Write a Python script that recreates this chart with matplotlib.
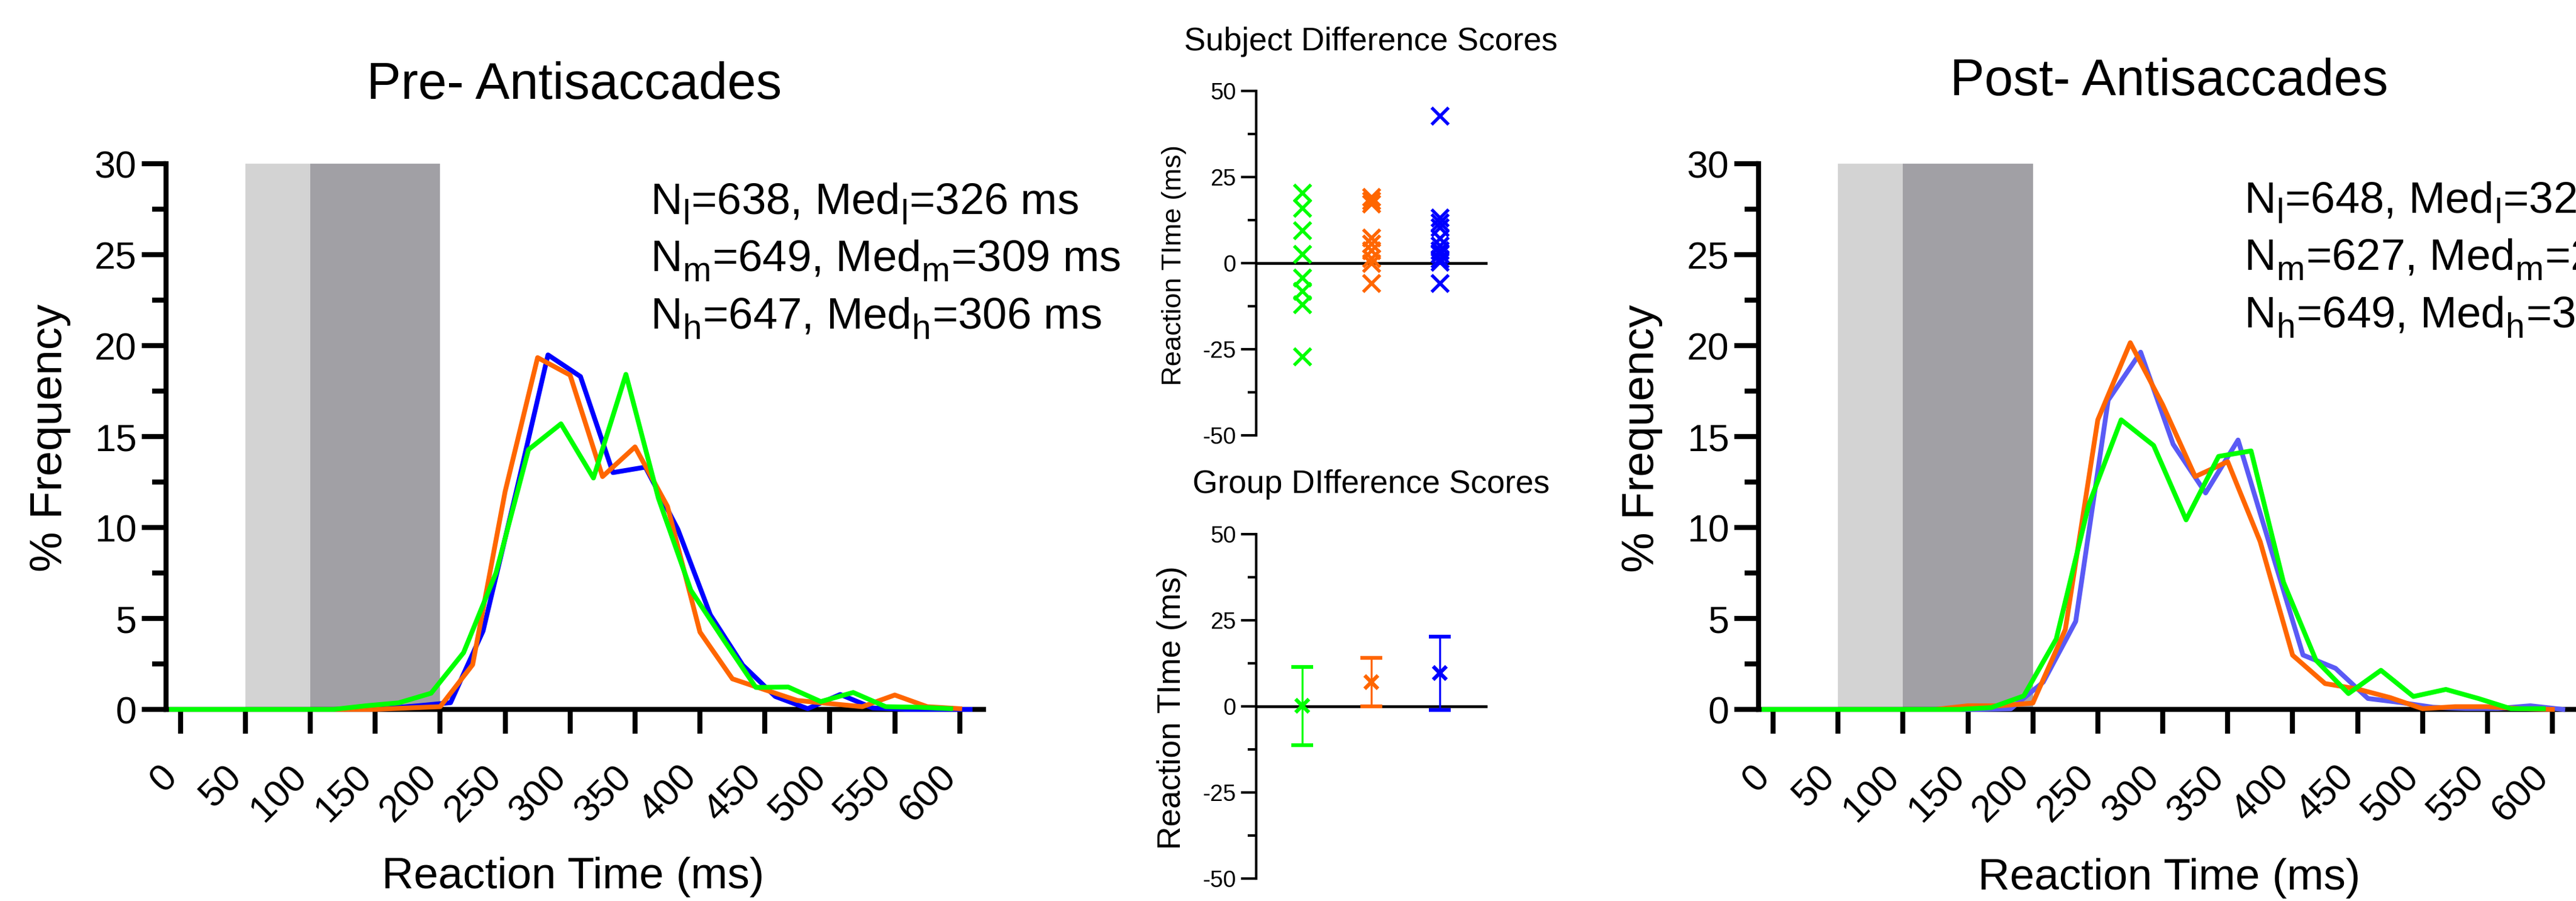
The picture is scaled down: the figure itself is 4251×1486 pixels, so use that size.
import numpy as np
import matplotlib
matplotlib.use('Agg')
import matplotlib.pyplot as plt
import matplotlib.transforms as mtransforms
from matplotlib.ticker import MultipleLocator

plt.rcParams['font.family'] = ['Liberation Sans', 'DejaVu Sans']
plt.rcParams['axes.unicode_minus'] = False
plt.rcParams['mathtext.fontset'] = 'custom'
plt.rcParams['mathtext.rm'] = 'Liberation Sans'

# subscripts in the original sit lower and a bit larger than mathtext's default
try:
    import matplotlib._mathtext as _mt
    _mt.FontConstantsBase.sub1 = 0.45
    _mt.FontConstantsBase.sub2 = 0.6
    _mt.SHRINK_FACTOR = 0.78
except Exception:
    pass

# bin positions (ms); each group is drawn slightly shifted
bins = np.arange(0, 601, 25)
shift_blue, shift_orange, shift_green = 8, 0, -7

# % frequency per bin
pre_blue = [0, 0, 0, 0, 0, 0, 0.05, 0.2, 0.37, 4.31, 11.8, 19.49, 18.3, 13.02,
            13.32, 9.9, 5.2, 2.43, 0.71, 0.04, 0.82, 0.08, 0, 0, 0]
pre_orange = [0, 0, 0, 0, 0, 0, 0, 0.08, 0.15, 2.46, 11.98, 19.34, 18.38, 12.8,
              14.43, 11.16, 4.25, 1.68, 1.08, 0.49, 0.32, 0.15, 0.79, 0.15, 0.04]
pre_green = [0, 0, 0, 0, 0, 0, 0.2, 0.36, 0.89, 3.12, 7.51, 14.28, 15.7, 12.72,
             18.42, 11.61, 6.55, 3.85, 1.21, 1.23, 0.43, 0.93, 0.15, 0.12, 0.04]

post_blue = [0, 0, 0, 0, 0, 0, 0, 0.03, 1.5, 4.84, 17.0, 19.64, 14.58, 11.9,
             14.81, 8.9, 2.99, 2.26, 0.6, 0.38, 0.12, 0.05, 0.05, 0.2, 0]
post_orange = [0, 0, 0, 0, 0, 0, 0.2, 0.2, 0.35, 4.39, 15.92, 20.16, 16.74, 12.8,
               13.62, 9.23, 2.98, 1.42, 1.12, 0.65, 0.04, 0.15, 0.15, 0.04, 0]
post_green = [0, 0, 0, 0, 0, 0, 0, 0.1, 0.74, 3.87, 11.24, 15.92, 14.51, 10.42,
              13.91, 14.21, 6.99, 2.7, 0.87, 2.15, 0.71, 1.1, 0.6, 0.04, 0.04]

pre_text = ['N$_\\mathregular{l}$=638, Med$_\\mathregular{l}$=326 ms',
            'N$_\\mathregular{m}$=649, Med$_\\mathregular{m}$=309 ms',
            'N$_\\mathregular{h}$=647, Med$_\\mathregular{h}$=306 ms']
post_text = ['N$_\\mathregular{l}$=648, Med$_\\mathregular{l}$=322 ms',
             'N$_\\mathregular{m}$=627, Med$_\\mathregular{m}$=298 ms',
             'N$_\\mathregular{h}$=649, Med$_\\mathregular{h}$=318 ms']

# difference scores (ms)
subj_green = [20.5, 16.1, 9.6, 2.6, -4.2, -8.1, -11.9, -27.0]
subj_orange = [19.3, 18.2, 17.3, 7.5, 5.6, 3.8, 1.5, 0.0, -5.8]
subj_blue = [42.8, 13.2, 11.8, 10.5, 7.2, 5.2, 3.8, 2.6, 1.2, 0.3, -5.8]
group_mean = [0.1, 7.0, 9.6]
group_err = [11.3, 7.1, 10.7]

GREEN = '#00FF00'
ORANGE = '#FF6600'
BLUE = '#0000FF'
BLUE2 = '#5A5AF5'

W, H = 4251, 1486
fig = plt.figure(figsize=(W / 300, H / 300), dpi=300)


def hist_axes(left, blue, orange, green, blue_col):
    ax = fig.add_axes([left, 0.21265, 0.3174, 0.60565])
    ax.axvspan(50, 100, color='#D3D3D3', lw=0, zorder=0)
    ax.axvspan(100, 200, color='#A1A0A5', lw=0, zorder=0)
    ax.plot(bins + shift_blue, blue, color=blue_col, lw=1.9, clip_on=False, zorder=3)
    ax.plot(bins + shift_orange, orange, color=ORANGE, lw=1.9, clip_on=False, zorder=4)
    ax.plot(bins + shift_green, green, color=GREEN, lw=1.9, clip_on=False, zorder=5)
    ax.set_xlim(-11.2, 618.3)
    ax.set_ylim(0, 30)
    for s in ['top', 'right']:
        ax.spines[s].set_visible(False)
    for s in ['left', 'bottom']:
        ax.spines[s].set_linewidth(2)
    ax.set_xticks(np.arange(0, 601, 50))
    ax.set_yticks(np.arange(0, 31, 5))
    ax.yaxis.set_minor_locator(MultipleLocator(2.5))
    ax.tick_params(axis='x', length=9.6, width=2, pad=10, labelsize=15)
    ax.tick_params(axis='y', which='major', length=9.6, width=2, pad=2, labelsize=15)
    ax.tick_params(axis='y', which='minor', length=5.5, width=2)
    off = mtransforms.ScaledTranslation(6 / 300, 0, fig.dpi_scale_trans)
    for lab in ax.get_xticklabels():
        lab.set_rotation(45)
        lab.set_ha('right')
        lab.set_transform(lab.get_transform() + off)
    return ax


hist_axes(0.06439, pre_blue, pre_orange, pre_green, BLUE)
hist_axes(0.68266, post_blue, post_orange, post_green, BLUE2)

fig.text(948 / W, 1 - 163 / H, 'Pre- Antisaccades', ha='center', va='baseline', fontsize=20.4)
fig.text(3580 / W, 1 - 157 / H, 'Post- Antisaccades', ha='center', va='baseline', fontsize=20.4)
fig.text(946 / W, 0.014, 'Reaction Time (ms)', ha='center', va='baseline', fontsize=17.5)
fig.text(3580 / W, 0.013, 'Reaction Time (ms)', ha='center', va='baseline', fontsize=17.5)
fig.text(83 / W, 1 - 722 / H, '% Frequency', rotation=90, ha='center', va='center', fontsize=18)
fig.text(2710 / W, 1 - 723 / H, '% Frequency', rotation=90, ha='center', va='center', fontsize=18)

for i, base in enumerate([353, 447, 542]):
    fig.text(1073 / W, 1 - base / H, pre_text[i], ha='left', va='baseline', fontsize=17.4)
    fig.text(3703 / W, 1 - (base - 2) / H, post_text[i], ha='left', va='baseline', fontsize=17.4)


def diff_axes(bottom):
    ax = fig.add_axes([0.48765, bottom, 0.08916, 0.3824])
    ax.set_xlim(0.335, 3.665)
    ax.set_ylim(-50, 50)
    ax.spines['top'].set_visible(False)
    ax.spines['right'].set_visible(False)
    ax.spines['bottom'].set_position(('data', 0))
    ax.spines['bottom'].set_linewidth(1.1)
    ax.spines['left'].set_linewidth(1.0)
    ax.set_xticks([])
    ax.set_yticks([-50, -25, 0, 25, 50])
    ax.yaxis.set_minor_locator(MultipleLocator(12.5))
    ax.tick_params(axis='y', which='major', length=5.9, width=1, pad=2, labelsize=9.2)
    ax.tick_params(axis='y', which='minor', length=3.3, width=1)
    return ax


ax_s = diff_axes(0.51662)
for pos, vals, col in [(1, subj_green, GREEN), (2, subj_orange, ORANGE), (3, subj_blue, BLUE)]:
    ax_s.plot(np.full(len(vals), pos), vals, 'x', color=col, ms=6.5, mew=1.3,
              clip_on=False, zorder=3)

ax_g = diff_axes(0.0249)
for pos, m, e, col in zip([1, 2, 3], group_mean, group_err, [GREEN, ORANGE, BLUE]):
    ax_g.errorbar([pos], [m], yerr=[e], fmt='x', color=col, ms=5.5, mew=1.5,
                  elinewidth=0.8, capsize=4.3, capthick=0.8, zorder=3)

fig.text(2262 / W, 1 - 83 / H, 'Subject Difference Scores', ha='center', va='baseline', fontsize=12.8)
fig.text(2263 / W, 1 - 813 / H, 'Group DIfference Scores', ha='center', va='baseline', fontsize=12.8)
fig.text(1938 / W, 1 - 437 / H, 'Reaction TIme (ms)', rotation=90, ha='center', va='center', fontsize=10.9)
fig.text(1934 / W, 1 - 1167 / H, 'Reaction TIme (ms)', rotation=90, ha='center', va='center', fontsize=12.8)

fig.savefig('out.png', dpi=300)
